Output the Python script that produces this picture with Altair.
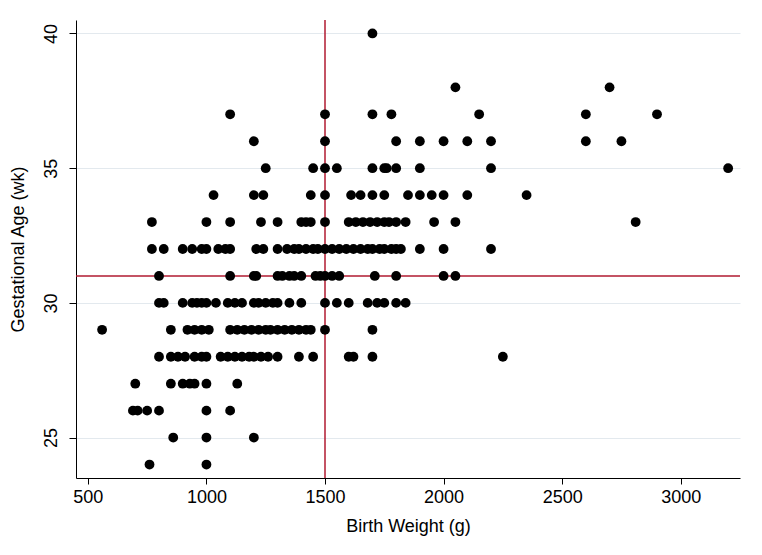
import altair as alt
import pandas as pd

# Birth weight (g) of each infant, grouped by gestational age (wk)
bw_ga40 = [1700]
bw_ga38 = [2050, 2700]
bw_ga37 = [1100, 1500, 1700, 1780, 2150, 2600, 2900]
bw_ga36 = [1200, 1500, 1800, 1900, 2000, 2100, 2200, 2600, 2750]
bw_ga35 = [1250, 1450, 1500, 1550, 1700, 1750, 1760, 1800, 1900, 2200, 3200]
bw_ga34 = [1030, 1200, 1240, 1440, 1500, 1610, 1650, 1700, 1750, 1850, 1900,
           1950, 2000, 2100, 2350]
bw_ga33 = [770, 1000, 1100, 1230, 1300, 1400, 1420, 1440, 1500, 1600, 1630,
           1660, 1690, 1720, 1750, 1770, 1800, 1840, 1960, 2050, 2810]
bw_ga32 = [770, 820, 900, 940, 980, 1000, 1050, 1080, 1100, 1210, 1240, 1300,
           1340, 1370, 1390, 1420, 1450, 1470, 1500, 1530, 1560, 1590, 1620,
           1650, 1680, 1700, 1730, 1750, 1780, 1800, 1820, 1900, 2000, 2200]
bw_ga31 = [800, 1100, 1200, 1210, 1300, 1320, 1350, 1370, 1400, 1460, 1480,
           1500, 1530, 1560, 1710, 1800, 2000, 2050]
bw_ga30 = [800, 820, 900, 940, 960, 980, 1000, 1040, 1090, 1120, 1150, 1200,
           1220, 1250, 1280, 1300, 1350, 1400, 1500, 1550, 1600, 1680, 1720,
           1750, 1800, 1840]
bw_ga29 = [560, 850, 920, 950, 980, 1010, 1100, 1130, 1160, 1190, 1220, 1250,
           1270, 1300, 1330, 1360, 1390, 1420, 1440, 1500, 1700]
bw_ga28 = [800, 850, 880, 910, 950, 980, 1000, 1060, 1090, 1120, 1150, 1180,
           1200, 1230, 1260, 1300, 1390, 1450, 1600, 1620, 1700, 2250]
bw_ga27 = [700, 850, 900, 930, 950, 1000, 1130]
bw_ga26 = [690, 710, 750, 800, 1000, 1100]
bw_ga25 = [860, 1000, 1200]
bw_ga24 = [760, 1000]

rows = {
    40: bw_ga40, 38: bw_ga38, 37: bw_ga37, 36: bw_ga36, 35: bw_ga35,
    34: bw_ga34, 33: bw_ga33, 32: bw_ga32, 31: bw_ga31, 30: bw_ga30,
    29: bw_ga29, 28: bw_ga28, 27: bw_ga27, 26: bw_ga26, 25: bw_ga25,
    24: bw_ga24,
}

x_ticks = [500, 1000, 1500, 2000, 2500, 3000]
y_ticks = [25, 30, 35, 40]
ref_bw = [1500]
ref_ga = [31]

df = pd.DataFrame(
    [{"bw": w, "ga": g} for g, ws in rows.items() for w in ws]
)

FONT = "Liberation Sans, Arial, Helvetica, sans-serif"
RED = "#b01a30"

x_scale = alt.Scale(domain=[450, 3250], nice=False, zero=False)
y_scale = alt.Scale(domain=[23.5, 40.5], nice=False, zero=False)

points = alt.Chart(df).mark_circle(size=96, color="#000000", opacity=1).encode(
    x=alt.X(
        "bw:Q",
        scale=x_scale,
        axis=alt.Axis(
            title="Birth Weight (g)",
            values=x_ticks,
            format="d",
            grid=False,
            tickSize=6,
            labelPadding=4,
            titleX=332,
            titleY=48,
            titleBaseline="middle",
            titleAlign="center",
        ),
    ),
    y=alt.Y(
        "ga:Q",
        scale=y_scale,
        axis=alt.Axis(
            title="Gestational Age (wk)",
            values=y_ticks,
            format="d",
            grid=True,
            gridColor="#e3e9ee",
            gridWidth=1,
            tickSize=7,
            labelAngle=270,
            labelAlign="center",
            labelBaseline="middle",
            labelPadding=18,
            titleX=-58,
            titleY=229,
            titleAngle=270,
            titleBaseline="middle",
            titleAlign="center",
        ),
    ),
)

vline = alt.Chart(pd.DataFrame({"bw": ref_bw})).mark_rule(
    color=RED, strokeWidth=1.5
).encode(x=alt.X("bw:Q", scale=x_scale))

hline = alt.Chart(pd.DataFrame({"ga": ref_ga})).mark_rule(
    color=RED, strokeWidth=1.5
).encode(y=alt.Y("ga:Q", scale=y_scale))

chart = (
    alt.layer(vline, hline, points)
    .properties(
        width=664,
        height=458,
        autosize=alt.AutoSizeParams(type="none"),
        padding={"left": 68, "top": 12, "right": 14, "bottom": 60},
        background="white",
    )
    .configure_view(stroke=None)
    .configure_axis(
        labelFont=FONT,
        titleFont=FONT,
        labelFontSize=18,
        titleFontSize=18,
        labelColor="#000000",
        titleColor="#000000",
        titleFontWeight="normal",
        domainColor="#000000",
        domainWidth=1,
        tickColor="#000000",
        tickWidth=1,
    )
)

chart.save("out.html", embed_options={"renderer": "svg", "actions": False})
